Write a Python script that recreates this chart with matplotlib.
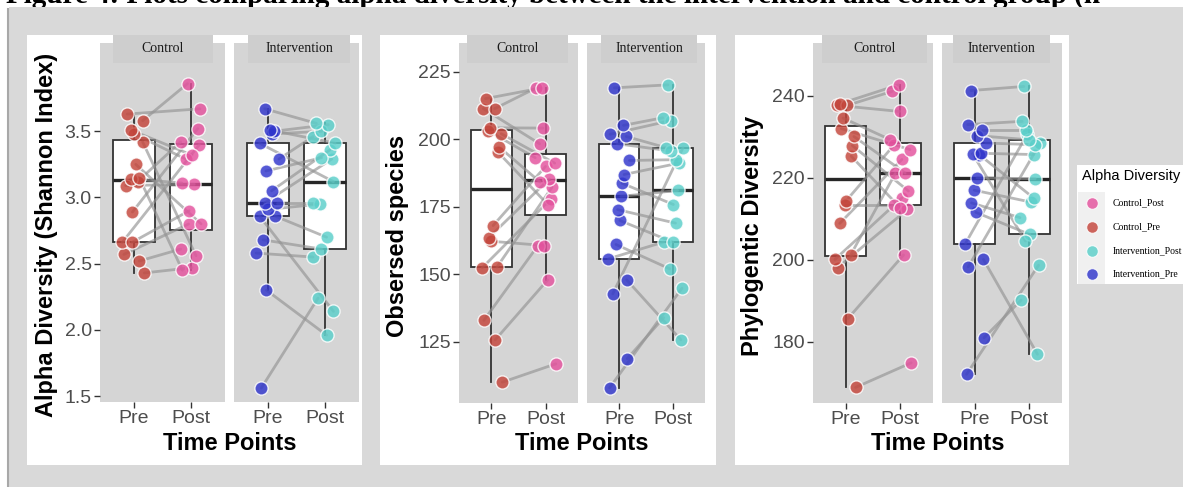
import numpy as np
import matplotlib
matplotlib.use("Agg")
import matplotlib.pyplot as plt
from matplotlib.patches import Rectangle

W, H = 1183, 487

# ---- data (pairs: same index = same subject) ----
time_points = ["Pre", "Post"]
groups = ["Control", "Intervention"]
legend_labels = ["Control_Post", "Control_Pre", "Intervention_Post", "Intervention_Pre"]

# Shannon index
shannon_ctrl_pre = [2.43, 2.52, 2.57, 2.66, 2.66, 2.89, 3.09, 3.12, 3.14, 3.15, 3.25, 3.42, 3.48, 3.51, 3.58, 3.63]
shannon_ctrl_post = [2.47, 2.61, 2.80, 3.40, 2.90, 3.52, 3.10, 3.42, 3.11, 2.45, 2.80, 2.56, 3.29, 3.32, 3.86, 3.67]
shannon_ctrl_pre_jit = [0.18, 0.09, -0.18, -0.21, -0.04, -0.03, -0.15, 0.06, -0.06, 0.09, 0.03, 0.15, 0.0, -0.06, 0.15, -0.12]
shannon_ctrl_post_jit = [0.02, -0.18, -0.04, 0.15, -0.03, 0.12, 0.06, -0.18, -0.16, -0.15, 0.18, 0.09, -0.09, 0.02, -0.06, 0.16]
shannon_int_pre = [1.56, 2.30, 2.58, 2.68, 2.86, 2.86, 2.91, 2.96, 2.96, 3.05, 3.20, 3.29, 3.41, 3.48, 3.50, 3.51, 3.67]
shannon_int_post = [2.24, 1.96, 2.55, 2.61, 2.14, 2.70, 2.95, 3.29, 2.96, 3.36, 3.30, 3.46, 3.12, 3.50, 3.55, 3.41, 3.56]
shannon_int_pre_jit = [-0.12, -0.03, -0.21, -0.09, -0.15, 0.12, 0.0, -0.06, 0.15, 0.06, -0.04, 0.19, -0.15, 0.06, 0.10, 0.03, -0.06]
shannon_int_post_jit = [-0.12, 0.03, -0.21, -0.06, 0.15, 0.03, -0.09, 0.12, -0.21, 0.09, -0.06, -0.21, 0.15, -0.06, 0.06, 0.18, -0.15]

# Observed species
obs_ctrl_pre = [110.1, 125.8, 133.0, 152.5, 152.7, 162.3, 163.6, 168.1, 195.3, 197.2, 202.1, 203.3, 204.3, 211.4, 211.4, 215.1]
obs_ctrl_post = [116.9, 148.0, 160.7, 178.0, 182.3, 160.7, 185.4, 190.0, 175.9, 184.2, 191.2, 193.2, 204.2, 198.4, 219.1, 219.1]
obs_ctrl_pre_jit = [0.20, 0.07, -0.14, -0.17, 0.10, -0.01, -0.05, 0.03, 0.12, 0.14, 0.18, -0.07, -0.02, -0.15, 0.06, -0.11]
obs_ctrl_post_jit = [0.19, 0.04, -0.14, 0.10, 0.12, -0.02, 0.07, 0.0, 0.04, -0.10, 0.17, -0.19, -0.05, -0.11, -0.17, -0.06]
obs_int_pre = [108.0, 118.8, 142.8, 148.0, 155.8, 161.1, 170.0, 174.0, 178.9, 183.8, 187.0, 192.2, 198.4, 201.1, 201.9, 205.2, 219.1]
obs_int_post = [144.9, 134.0, 196.9, 125.8, 162.0, 152.1, 162.0, 169.0, 181.1, 175.9, 191.2, 192.5, 195.7, 196.9, 207.0, 208.0, 220.2]
obs_int_pre_jit = [-0.18, 0.15, -0.12, 0.14, -0.20, -0.06, 0.01, -0.03, 0.03, 0.05, 0.09, 0.19, -0.04, 0.13, -0.17, 0.08, -0.09]
obs_int_post_jit = [0.17, -0.17, 0.19, 0.15, -0.17, -0.06, 0.0, 0.05, 0.09, 0.01, 0.11, 0.06, -0.03, -0.12, -0.03, -0.19, -0.09]

# Phylogenetic diversity
pd_ctrl_pre = [168.9, 185.7, 198.1, 200.1, 201.2, 208.9, 213.5, 214.3, 225.3, 227.9, 230.1, 232.0, 234.6, 237.7, 237.7, 238.1]
pd_ctrl_post = [174.9, 201.2, 212.3, 215.1, 221.1, 224.5, 213.5, 228.1, 212.7, 216.8, 221.2, 226.9, 229.3, 236.2, 241.1, 242.7]
pd_ctrl_pre_jit = [0.18, 0.04, -0.15, -0.20, 0.09, -0.11, -0.02, 0.0, 0.10, 0.12, 0.15, -0.08, -0.05, -0.16, 0.03, -0.10]
pd_ctrl_post_jit = [0.20, 0.06, 0.13, 0.03, -0.09, 0.03, -0.12, -0.11, 0.0, 0.15, 0.09, 0.18, -0.18, -0.01, -0.15, -0.03]
pd_int_pre = [172.1, 181.0, 198.3, 200.1, 204.0, 211.6, 213.9, 217.0, 220.0, 225.7, 225.9, 226.0, 228.5, 230.3, 231.8, 233.0, 241.3]
pd_int_post = [198.7, 190.2, 228.5, 177.0, 230.6, 206.2, 210.3, 214.1, 219.8, 215.1, 204.6, 225.7, 228.1, 229.3, 231.8, 233.8, 242.3]
pd_int_pre_jit = [-0.15, 0.17, -0.12, 0.16, -0.17, 0.02, -0.06, -0.01, 0.04, 0.08, -0.04, 0.11, 0.20, 0.05, 0.14, -0.13, -0.07]
pd_int_post_jit = [0.17, -0.15, 0.20, 0.15, -0.04, 0.01, -0.17, 0.03, 0.11, 0.08, -0.07, 0.08, 0.11, -0.01, -0.06, -0.13, -0.10]

# ---- styles ----
C_PRE = "#c4453b"
C_POST = "#e4519d"
I_PRE = "#3035cc"
I_POST = "#5acfca"
BG_GRAY = "#d9d9d9"
PANEL_GRAY = "#d5d5d5"
STRIP_GRAY = "#cecece"
SANS = "Liberation Sans"
SERIF = "Liberation Serif"

plt.rcParams['font.family'] = SANS

fig = plt.figure(figsize=(W / 100, H / 100), dpi=100)
fig.patch.set_facecolor("white")


def rect_px(x0, y0, x1, y1):
    return [x0 / W, 1 - y1 / H, (x1 - x0) / W, (y1 - y0) / H]


# background overlay (pixel coords, origin top-left)
bg = fig.add_axes([0, 0, 1, 1], zorder=0)
bg.set_xlim(0, W)
bg.set_ylim(H, 0)
bg.axis("off")
# caption sits mostly above the crop, only its lower part shows
bg.text(6, 3, "Figure 4: Plots comparing alpha diversity between the intervention and control group (n",
        family=SERIF, fontweight="bold", fontsize=21, va="baseline", zorder=0.5)
bg.add_patch(Rectangle((9, 7), W, H, facecolor=BG_GRAY, edgecolor="none", zorder=1))
bg.plot([8.5, 8.5], [9, H], color="#a8a8a8", lw=1.5, zorder=1.5)
for x0, x1 in [(27, 362), (380, 716), (735, 1069)]:
    bg.add_patch(Rectangle((x0, 35), x1 - x0, 430, facecolor="white", edgecolor="none", zorder=2))

# foreground overlay
fg = fig.add_axes([0, 0, 1, 1], zorder=5)
fg.set_xlim(0, W)
fg.set_ylim(H, 0)
fg.axis("off")
fg.patch.set_alpha(0)


def draw_facet(ax, pre, post, pre_jit, post_jit, c_pre, c_post, ylim, yticks, fmt, show_y):
    ax.set_facecolor(PANEL_GRAY)
    ax.boxplot([pre, post], positions=[1, 2], widths=0.75, showfliers=False,
               patch_artist=True, showcaps=False, zorder=1,
               boxprops=dict(facecolor="white", edgecolor="#333333", linewidth=1.3),
               medianprops=dict(color="#262626", linewidth=2.4),
               whiskerprops=dict(color="#333333", linewidth=1.3))
    xpre = 1 + np.array(pre_jit)
    xpost = 2 + np.array(post_jit)
    for a, b, ya, yb in zip(xpre, xpost, pre, post):
        ax.plot([a, b], [ya, yb], color="#939393", alpha=0.65, lw=2, zorder=2,
                solid_capstyle="round")
    ax.scatter(xpre, pre, s=90, color=c_pre, alpha=0.82, edgecolor="white", linewidth=1, zorder=3)
    ax.scatter(xpost, post, s=90, color=c_post, alpha=0.82, edgecolor="white", linewidth=1, zorder=3)
    ax.set_xlim(0.4, 2.6)
    ax.set_ylim(*ylim)
    ax.set_xticks([1, 2])
    ax.set_xticklabels(time_points)
    ax.set_yticks(yticks)
    ax.set_yticklabels([fmt.format(t) for t in yticks])
    for s in ax.spines.values():
        s.set_visible(False)
    ax.tick_params(axis="both", length=4, width=1, color="#333333",
                   labelsize=14, labelcolor="#4d4d4d", pad=2)
    if not show_y:
        ax.tick_params(axis="y", length=0, labelleft=False)


panels = [
    dict(facets=[(100, 225), (234, 359)], strips=[(113, 213), (248, 350)], bottom=402,
         data=[(shannon_ctrl_pre, shannon_ctrl_post, shannon_ctrl_pre_jit, shannon_ctrl_post_jit),
               (shannon_int_pre, shannon_int_post, shannon_int_pre_jit, shannon_int_post_jit)],
         ylim=(1.455, 4.167), yticks=[1.5, 2.0, 2.5, 3.0, 3.5], fmt="{:.1f}",
         ylabel="Alpha Diversity (Shannon Index)", ylab_x=47),
    dict(facets=[(459, 578), (587, 705)], strips=[(467, 568), (601, 697)], bottom=403,
         data=[(obs_ctrl_pre, obs_ctrl_post, obs_ctrl_pre_jit, obs_ctrl_post_jit),
               (obs_int_pre, obs_int_post, obs_int_pre_jit, obs_int_post_jit)],
         ylim=(102.4, 235.7), yticks=[125, 150, 175, 200, 225], fmt="{:d}",
         ylabel="Obsersed species", ylab_x=398),
    dict(facets=[(813, 933), (942, 1062)], strips=[(822, 927), (953, 1050)], bottom=403,
         data=[(pd_ctrl_pre, pd_ctrl_post, pd_ctrl_pre_jit, pd_ctrl_post_jit),
               (pd_int_pre, pd_int_post, pd_int_pre_jit, pd_int_post_jit)],
         ylim=(165.1, 252.9), yticks=[180, 200, 220, 240], fmt="{:d}",
         ylabel="Phylogentic Diversity", ylab_x=753),
]

colors = [(C_PRE, C_POST), (I_PRE, I_POST)]
for p in panels:
    for k, ((x0, x1), (s0, s1)) in enumerate(zip(p["facets"], p["strips"])):
        ax = fig.add_axes(rect_px(x0, 43, x1, p["bottom"]), zorder=3)
        pre, post, pj, qj = p["data"][k]
        draw_facet(ax, pre, post, pj, qj, colors[k][0], colors[k][1],
                   p["ylim"], p["yticks"], p["fmt"], k == 0)
        fg.add_patch(Rectangle((s0, 35), s1 - s0, 28, facecolor=STRIP_GRAY, edgecolor="none"))
        fg.text((s0 + s1) / 2, 49, groups[k], family=SERIF, fontsize=10,
                color="#1a1a1a", ha="center", va="center")
    cx = (p["facets"][0][0] + p["facets"][1][1]) / 2
    fg.text(cx, 443, "Time Points", fontsize=17, fontweight="bold", ha="center", va="center")
    cy = (68 + p["bottom"]) / 2
    fg.text(p["ylab_x"], cy, p["ylabel"], fontsize=17, fontweight="bold",
            rotation=90, ha="center", va="center")

# legend
fg.add_patch(Rectangle((1077, 165), 130, 119, facecolor="white", edgecolor="none"))
fg.add_patch(Rectangle((1078, 192), 27, 92, facecolor="#f0f0f0", edgecolor="none"))
fg.text(1082, 176, "Alpha Diversity", fontsize=10.5, ha="left", va="center")
leg_colors = [C_POST, C_PRE, I_POST, I_PRE]
leg_y = [203, 227, 251, 274]
for lab, col, y in zip(legend_labels, leg_colors, leg_y):
    fg.scatter([1092], [y], s=70, color=col, alpha=0.82, edgecolor="white", linewidth=0.8)
    fg.text(1113, y, lab, family=SERIF, fontsize=7, ha="left", va="center")

fig.savefig("out.png", dpi=100)
